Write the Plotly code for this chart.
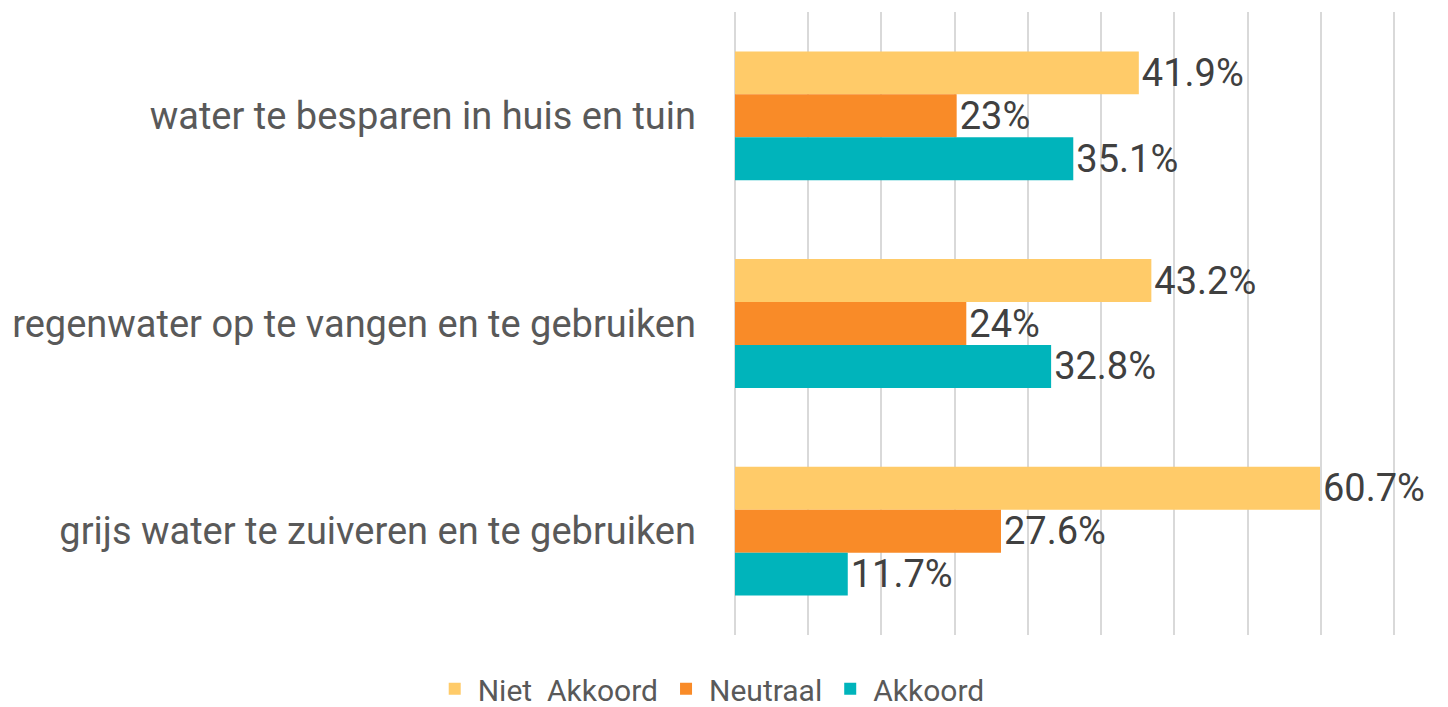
import plotly.graph_objects as go

categories = [
    "water te besparen in huis en tuin",
    "regenwater op te vangen en te gebruiken",
    "grijs water te zuiveren en te gebruiken",
]
niet_akkoord = [41.9, 43.2, 60.7]
neutraal = [23, 24, 27.6]
akkoord = [35.1, 32.8, 11.7]

niet_labels = ["41.9%", "43.2%", "60.7%"]
neutraal_labels = ["23%", "24%", "27.6%"]
akkoord_labels = ["35.1%", "32.8%", "11.7%"]

series = [
    ("Niet  Akkoord", niet_akkoord, niet_labels, "#FFCB69"),
    ("Neutraal", neutraal, neutraal_labels, "#F98B28"),
    ("Akkoord", akkoord, akkoord_labels, "#00B4BB"),
]

FONT = "Roboto"

fig = go.Figure()
for name, vals, labels, color in series:
    fig.add_trace(go.Bar(
        y=categories,
        x=vals,
        name=name,
        orientation="h",
        marker=dict(color=color, line=dict(width=0)),
        text=labels,
        textposition="outside",
        constraintext="none",
        textfont=dict(family=FONT, size=38, color="#404040"),
        cliponaxis=False,
    ))

# page body has an 8px margin, so the figure is sized/offset to land on the reference
fig.update_layout(
    width=1440,
    height=699,
    barmode="group",
    bargap=0.38,
    bargroupgap=0,
    plot_bgcolor="white",
    paper_bgcolor="white",
    font=dict(family=FONT, color="#595959"),
    margin=dict(l=727, r=48, t=4, b=72, autoexpand=False),
    legend=dict(
        orientation="h",
        xref="container", x=0.488, xanchor="center",
        yref="container", y=0.026, yanchor="middle",
        font=dict(size=30, color="#595959"),
        itemwidth=36,
        traceorder="normal",
    ),
)
fig.update_xaxes(
    range=[0, 69.0],
    dtick=7.6,
    tick0=0,
    showticklabels=False,
    showgrid=True,
    gridcolor="#D9D9D9",
    gridwidth=1.5,
    zeroline=True,
    zerolinecolor="#D9D9D9",
    zerolinewidth=1.5,
    showline=False,
    automargin=False,
)
fig.update_yaxes(
    autorange="reversed",
    tickfont=dict(size=38, color="#595959"),
    ticklabelstandoff=38,
    showgrid=False,
    showline=False,
    automargin=False,
)

fig.write_html("out.html")
